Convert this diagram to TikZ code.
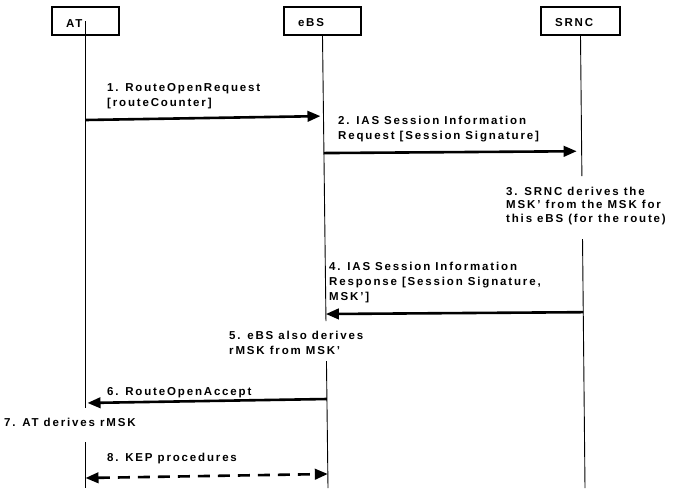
\documentclass[tikz,border=0pt]{standalone}
\usepackage{fontspec}
\setmainfont{Liberation Sans}[LetterSpace=16]
\usetikzlibrary{calc,arrows.meta}
\def\drawlife{\draw[line width=0.9pt]}
\def\drawmsg{\draw[line width=2.6pt,-{Triangle[length=13pt,width=10.5pt]}]}
\def\drawkep{\draw[line width=2.6pt,dash pattern=on 12pt off 8pt,{Triangle[length=13pt,width=10.5pt]}-{Triangle[length=13pt,width=10.5pt]}]}
\def\entnode{\node[draw,line width=1.4pt,inner xsep=14pt,minimum height=28pt,align=left,text height=12pt,font=\bfseries\fontsize{11.5}{15}\selectfont]}
\def\msgnode{\node[anchor=west,align=left,inner sep=0pt,font=\bfseries\fontsize{11.5}{15}\selectfont]}

\begin{document}
\begin{tikzpicture}[x=1pt,y=-1pt]
\useasboundingbox (0,0) rectangle (674,488);
\entnode[text width=39pt] (at) at (85.5,21) {AT};
\entnode[text width=49pt] (ebs) at (322.5,21) {eBS};
\entnode[text width=51pt] (srnc) at (580.5,21) {SRNC};
\coordinate (atEnd) at (85.5,488);
\coordinate (ebsEnd) at (328,488);
\coordinate (srncEnd) at (585,488);

\msgnode (t1) at (107,96.5) {1. RouteOpenRequest\\{}[routeCounter]};
\msgnode (t2) at (338,129.5) {2. IAS Session Information\\Request [Session Signature]};
\msgnode[font=\bfseries\fontsize{11.5}{13.5}\selectfont] (t3) at (506,206) {3. SRNC derives the\\MSK’ from the MSK for\\this eBS (for the route)};
\msgnode (t4) at (329,283) {4. IAS Session Information\\Response [Session Signature,\\MSK’]};
\msgnode (t5) at (229,342.5) {5. eBS also derives\\rMSK from MSK’};
\msgnode (t6) at (107,393) {6. RouteOpenAccept};
\msgnode (t7) at (4,422) {7. AT derives rMSK};
\msgnode (t8) at (107,459) {8. KEP procedures};

\coordinate (atA) at ($(at.center)!(0,408)!(atEnd)$);
\coordinate (atB) at ($(at.center)!(0,442)!(atEnd)$);
\coordinate (ebsA) at ($(ebs.south)!(0,325)!(ebsEnd)$);
\coordinate (ebsB) at ($(ebs.south)!(0,365)!(ebsEnd)$);
\coordinate (srncA) at ($(srnc.south)!(0,182)!(srncEnd)$);
\coordinate (srncB) at ($(srnc.south)!(0,245)!(srncEnd)$);
\drawlife (at.center) -- (atA);
\drawlife (atB) -- (atEnd);
\drawlife (ebs.south) -- (ebsA);
\drawlife (ebsB) -- (ebsEnd);
\drawlife (srnc.south) -- (srncA);
\drawlife (srncB) -- (srncEnd);

\coordinate (m1a) at ($(at.center)!(0,120)!(atEnd)$);
\coordinate (m1b) at ($(ebs.south)!(0,120)!(ebsEnd)$);
\coordinate (m2a) at ($(ebs.south)!(0,157)!(ebsEnd)$);
\coordinate (m2b) at ($(srnc.south)!(0,157)!(srncEnd)$);
\coordinate (m4a) at ($(srnc.south)!(0,318)!(srncEnd)$);
\coordinate (m4b) at ($(ebs.south)!(0,318)!(ebsEnd)$);
\coordinate (m6a) at ($(ebs.south)!(0,403)!(ebsEnd)$);
\coordinate (m6b) at ($(at.center)!(0,403)!(atEnd)$);
\coordinate (m8a) at ($(at.center)!(0,478)!(atEnd)$);
\coordinate (m8b) at ($(ebs.south)!(0,478)!(ebsEnd)$);
\drawmsg[shorten >=3pt] (m1a) -- (m1b);
\drawmsg[shorten >=5pt] (m2a) -- (m2b);
\drawmsg (m4a) -- (m4b);
\drawmsg[shorten >=2pt] (m6a) -- (m6b);
\drawkep (m8a) -- (m8b);
\end{tikzpicture}
\end{document}
